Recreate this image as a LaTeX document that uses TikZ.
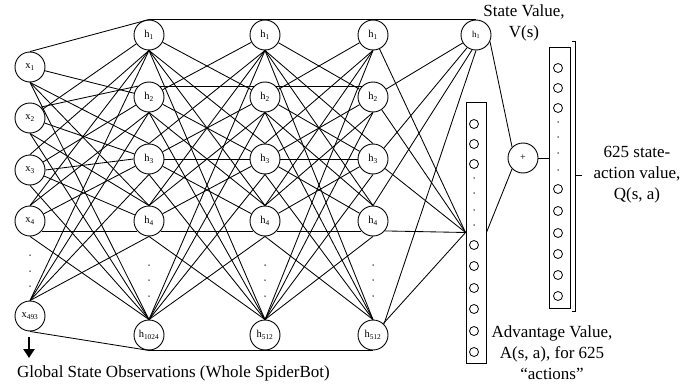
\documentclass[tikz,border=0pt]{standalone}
\usepackage{fontspec}
\setmainfont{Liberation Serif}
\usetikzlibrary{arrows.meta}
\begin{document}
\begin{tikzpicture}[x=1pt,y=-1pt,
  neuron/.style={circle,draw,line width=0.9pt,minimum size=30pt,inner sep=0pt,font=\fontsize{10.5}{12}\selectfont},
  unit/.style={circle,draw,line width=0.8pt,minimum size=9pt,inner sep=0pt},
  vbox/.style={draw,line width=0.9pt,minimum width=20pt,minimum height=261pt,inner sep=0pt},
  link/.style={line width=0.85pt},
  lbl/.style={font=\fontsize{17}{21}\selectfont,align=center,inner sep=0pt},
  dotm/.style={circle,fill,inner sep=0pt,minimum size=1.5pt}]
\useasboundingbox (0,0) rectangle (681,388);

% input layer
\node[neuron] (i1) at (30,67) {x\textsubscript{1}};
\node[neuron] (i2) at (30,118) {x\textsubscript{2}};
\node[neuron] (i3) at (30,170) {x\textsubscript{3}};
\node[neuron] (i4) at (30,221) {x\textsubscript{4}};
\node[neuron] (i6) at (30,316) {x\textsubscript{493}};
\foreach \y [count=\k] in {255,271,286} \node[dotm] (idot\k) at (30,\y) {};

% hidden layers
\foreach \L/\X/\N in {a/149/1024,b/265/512,c/373/512}{
  \node[neuron] (\L1) at (\X,35) {h\textsubscript{1}};
  \node[neuron] (\L2) at (\X,97) {h\textsubscript{2}};
  \node[neuron] (\L3) at (\X,159) {h\textsubscript{3}};
  \node[neuron] (\L4) at (\X,221) {h\textsubscript{4}};
  \node[neuron] (\L6) at (\X,335) {h\textsubscript{\N}};
  \foreach \y [count=\k] in {265,280,296} \node[dotm] (\L dot\k) at (\X,\y) {};
}

% state value, advantage, sum, Q
\node[neuron,font=\fontsize{9}{10}\selectfont] (sv) at (476,35) {h\textsubscript{1}};
\node[vbox] (adv) at (476,232.5) {};
\node[vbox,minimum width=21pt] (qb) at (559.5,177.5) {};
\node[neuron,font=\fontsize{10}{10}\selectfont] (plus) at (523,158) {+};

\foreach \y [count=\k] in {124,144,164,245,266,288,309,331,352} \node[unit] (au\k) at (474,\y) {};
\foreach \y [count=\k] in {178,193,210,225} \node[dotm] (ad\k) at (474,\y) {};
\foreach \y [count=\k] in {68,88,108,189,211,233,254,275,296} \node[unit] (qu\k) at (558,\y) {};
\foreach \y [count=\k] in {122,137,153,170} \node[dotm] (qd\k) at (558,\y) {};

% links between layers
\foreach \L/\R in {i/a,a/b,b/c}{
  \foreach \p/\s/\t in {1/90/90,2/45/135,3/0/180,4/320/220,6/270/270}
    \draw[link] (\L\p.\s) -- (\R\p.\t);
  \foreach \p in {1,2,3,4,6}{
    \foreach \q in {1,2,3,4,6}{
      \pgfmathtruncatemacro\d{\q-\p}
      \ifnum\d>1 \draw[link] (\L\p.south) -- (\R\q.north);\fi
      \ifnum\d<-1 \draw[link] (\L\p.north) -- (\R\q.south);\fi
      \ifnum\d=1 \draw[link] (\L\p) -- (\R\q);\fi
      \ifnum\d=-1 \draw[link] (\L\p) -- (\R\q);\fi
    }}}

% last hidden layer to advantage stream
\foreach \p in {1,2,3,6} \draw[link] (c\p) -- (adv.west);
\draw[link] (c4.320) -- (adv.west);

% last hidden layer to state value
\draw[link] (c1.north) -- (sv.north);
\draw[link] (c2) -- (sv);
\draw[link] (c3.45) -- (sv.235);
\draw[link] (c4.north) -- (sv.255);
\draw[link] (c6.45) -- (sv.south);

% aggregation
\draw[link] (sv.335) -- (plus.135);
\draw[link] (adv.east) -- (plus.225);
\draw[link] (plus.east) -- (plus.east -| qb.west);

% bracket
\coordinate (bt) at (575,41);
\coordinate (bb) at (575,311);
\coordinate (bm) at (575,175);
\draw[line width=0.9pt] ([xshift=-3pt]bt) -- (bt) -- (bb) -- ([xshift=-3pt]bb);
\draw[line width=0.9pt] (bm) -- ([xshift=7pt]bm);

% labels
\node[lbl] (svl) at (524,23) {State Value,\\V(s)};
\node[lbl] (ql) at (637,175) {625 state-\\action value,\\Q(s, a)};
\node[lbl] (al) at (552,353) {Advantage Value,\\A(s, a), for 625\\“actions”};
\node[lbl] (gl) at (173.5,373) {Global State Observations (Whole SpiderBot)};

% arrow
\coordinate (ar1) at (29,337);
\coordinate (ar2) at (29,358);
\draw[line width=2.8pt,-{Triangle[width=11pt,length=9pt]}] (ar1) -- (ar2);
\end{tikzpicture}
\end{document}
